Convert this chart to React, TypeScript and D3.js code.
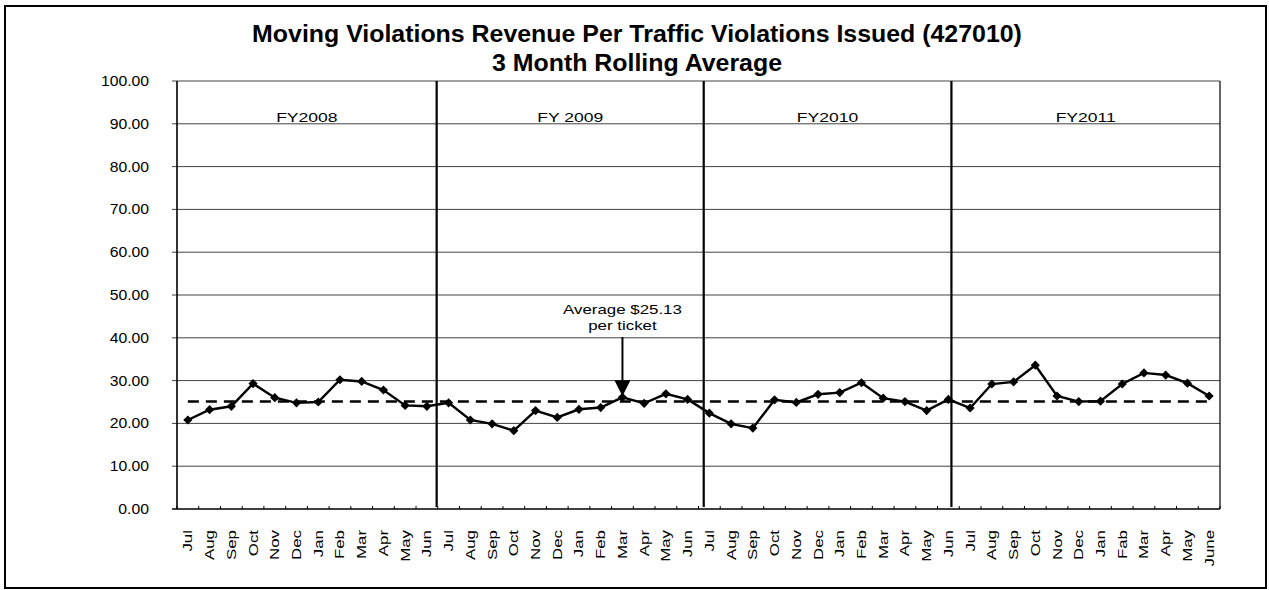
import React from "react";
import * as d3 from "d3";

const fy2008 = [20.8, 23.2, 24.0, 29.3, 26.0, 24.8, 25.0, 30.2, 29.8, 27.8, 24.2, 24.0];
const fy2009 = [24.8, 20.8, 19.9, 18.3, 23.0, 21.4, 23.3, 23.7, 26.1, 24.7, 26.9, 25.6];
const fy2010 = [22.4, 19.9, 18.9, 25.5, 24.9, 26.8, 27.2, 29.5, 25.9, 25.1, 23.0, 25.6];
const fy2011 = [23.6, 29.2, 29.7, 33.6, 26.4, 25.1, 25.2, 29.2, 31.8, 31.3, 29.4, 26.4];

const monthsStd = ["Jul", "Aug", "Sep", "Oct", "Nov", "Dec", "Jan", "Feb", "Mar", "Apr", "May", "Jun"];
const months2011 = ["Jul", "Aug", "Sep", "Oct", "Nov", "Dec", "Jan", "Fab", "Mar", "Apr", "May", "June"];
const monthLabels = [...monthsStd, ...monthsStd, ...monthsStd, ...months2011];

const fyLabels = ["FY2008", "FY 2009", "FY2010", "FY2011"];
// divider positions in category-index units (hand-placed in the original)
const dividerPositions = [11.45, 23.74, 35.14];
const fyBounds = [-0.5, 11.45, 23.74, 35.14, 47.5];

const yTicks = [0, 10, 20, 30, 40, 50, 60, 70, 80, 90, 100];
const averageValue = 25.13;
const annotationIndex = 20; // FY2009 Mar
const annotationLines = ["Average $25.13", "per ticket"];

const titleLines = [
  "Moving Violations Revenue Per Traffic Violations Issued (427010)",
  "3 Month Rolling Average",
];

const values = [...fy2008, ...fy2009, ...fy2010, ...fy2011];

export default function App() {
  const W = 1269;
  const H = 590;
  const left = 177, right = 1220, top = 81, bottom = 509;
  const x = d3.scaleLinear().domain([-0.5, values.length - 0.5]).range([left, right]);
  const y = d3.scaleLinear().domain([0, 100]).range([bottom, top]);
  const line = d3
    .line<number>()
    .x((_, i) => x(i))
    .y((d) => y(d));
  const font = "Liberation Sans, Arial, Helvetica, sans-serif";
  const r = 4.6;
  const diamond = `M0,${-r}L${r},0L0,${r}L${-r},0Z`;

  const ax = x(annotationIndex);
  const ay = y(values[annotationIndex]);

  return (
    <svg
      width={W}
      height={H}
      style={{ position: "absolute", left: 0, top: 0, background: "#fff" }}
      fontFamily={font}
    >
      <rect x={0} y={0} width={W} height={H} fill="#fff" />
      {/* outer frame */}
      <rect x={5} y={6} width={1261} height={582} fill="none" stroke="#000" strokeWidth={2} />

      {/* title */}
      {titleLines.map((t, i) => (
        <text
          key={t}
          x={0}
          y={0}
          transform={`translate(${637},${i === 0 ? 42 : 71}) scale(1.06,1)`}
          textAnchor="middle"
          fontWeight="bold"
          fontSize={23.5}
          fill="#000"
        >
          {t}
        </text>
      ))}

      {/* horizontal gridlines */}
      {yTicks.map((t) => (
        <line
          key={"g" + t}
          x1={left - 5}
          x2={right}
          y1={y(t)}
          y2={y(t)}
          stroke={t === 0 ? "#000" : "#444"}
          strokeWidth={t === 0 ? 1.6 : 1}
        />
      ))}
      {/* y labels */}
      {yTicks.map((t) => (
        <text
          key={"yl" + t}
          transform={`translate(149,${y(t) + 5}) scale(1.05,1)`}
          textAnchor="end"
          fontSize={15}
          fill="#000"
        >
          {t.toFixed(2)}
        </text>
      ))}

      {/* axes frame */}
      <line x1={left} x2={left} y1={top} y2={bottom} stroke="#000" strokeWidth={1.6} />
      <line x1={right} x2={right} y1={top} y2={bottom} stroke="#000" strokeWidth={1.2} />

      {/* x ticks at category boundaries */}
      {d3.range(values.length + 1).map((i) => (
        <line
          key={"xt" + i}
          x1={x(i - 0.5)}
          x2={x(i - 0.5)}
          y1={bottom}
          y2={bottom - 3}
          stroke="#000"
          strokeWidth={1}
        />
      ))}

      {/* FY dividers */}
      {dividerPositions.map((p) => (
        <line
          key={"dv" + p}
          x1={x(p)}
          x2={x(p)}
          y1={top}
          y2={bottom - 2}
          stroke="#000"
          strokeWidth={2.2}
        />
      ))}

      {/* FY labels */}
      {fyLabels.map((l, i) => (
        <text
          key={l}
          transform={`translate(${(x(fyBounds[i]) + x(fyBounds[i + 1])) / 2},122) scale(1.3,1)`}
          textAnchor="middle"
          fontSize={13.5}
          fill="#000"
        >
          {l}
        </text>
      ))}

      {/* average dashed line */}
      <line
        x1={x(0)}
        x2={x(values.length - 1)}
        y1={y(averageValue)}
        y2={y(averageValue)}
        stroke="#000"
        strokeWidth={2.5}
        strokeDasharray="11,7"
      />

      {/* series */}
      <path d={line(values) ?? ""} fill="none" stroke="#000" strokeWidth={2.4} />
      {values.map((v, i) => (
        <path key={"m" + i} d={diamond} transform={`translate(${x(i)},${y(v)})`} fill="#000" />
      ))}

      {/* annotation */}
      {annotationLines.map((t, i) => (
        <text
          key={t}
          transform={`translate(${ax},${314 + i * 16}) scale(1.3,1)`}
          textAnchor="middle"
          fontSize={13}
          fill="#000"
        >
          {t}
        </text>
      ))}
      <line x1={ax} x2={ax} y1={337} y2={ay - 14} stroke="#000" strokeWidth={2} />
      <path
        d={`M${ax - 8},${ay - 17} L${ax + 8},${ay - 17} L${ax},${ay - 1} Z`}
        fill="#000"
      />

      {/* x labels */}
      {monthLabels.map((m, i) => (
        <text
          key={"xl" + i}
          transform={`translate(${x(i) + 4.5},530) rotate(-90) scale(1.35,1)`}
          textAnchor="end"
          fontSize={12.5}
          fill="#000"
        >
          {m}
        </text>
      ))}
    </svg>
  );
}
